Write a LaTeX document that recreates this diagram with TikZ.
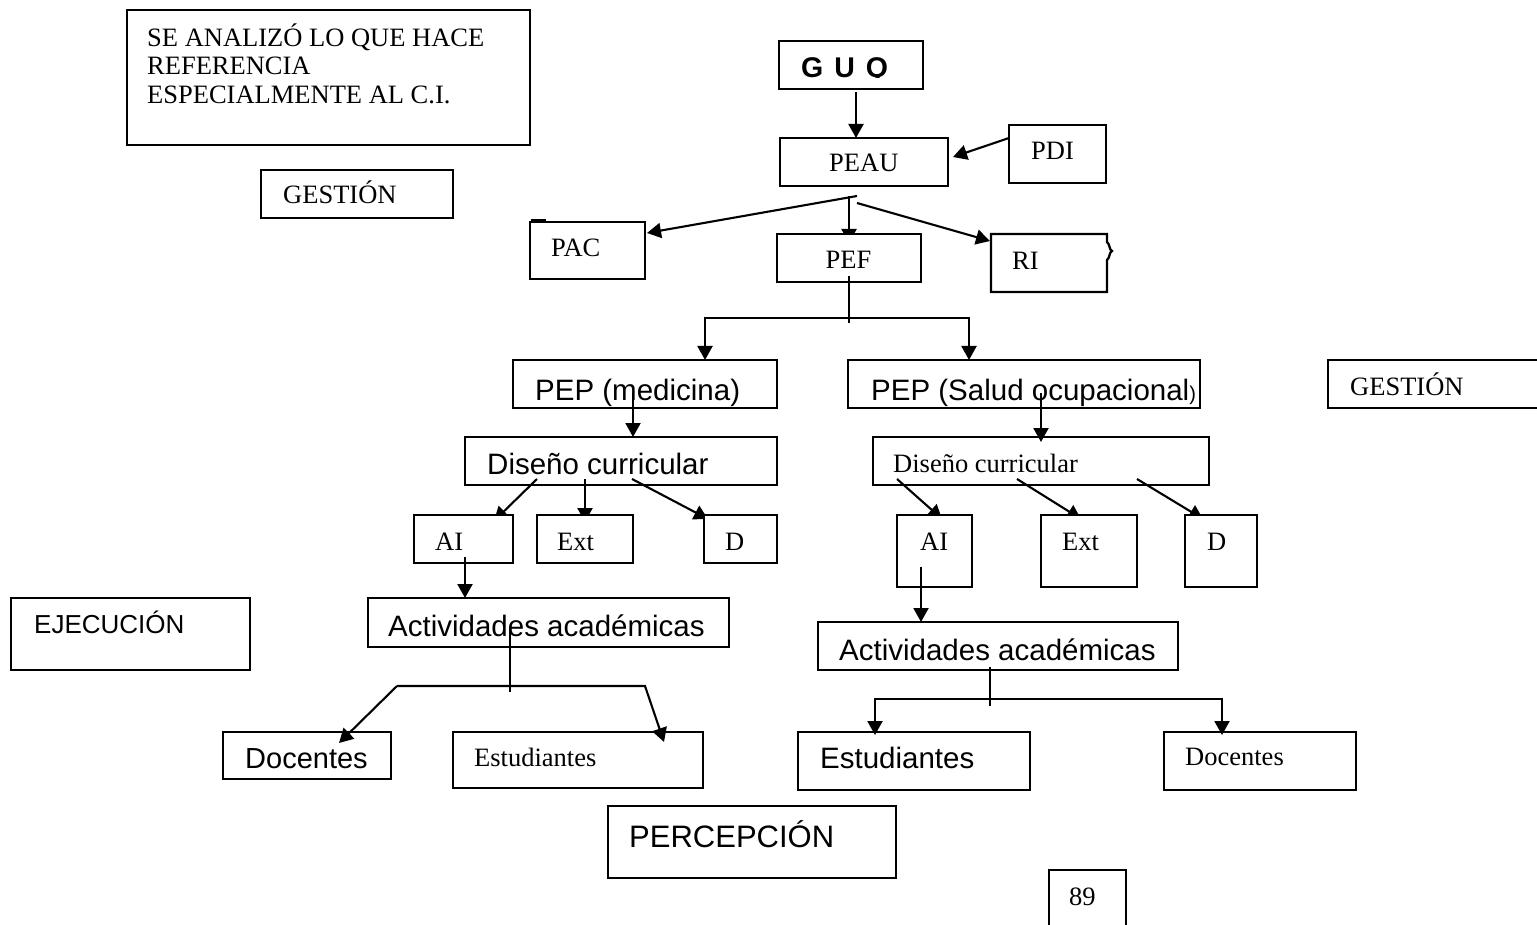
\documentclass[tikz,border=0pt]{standalone}
\usepackage{fontspec}
\setmainfont{Liberation Serif}
\setsansfont{Liberation Sans}
\usetikzlibrary{arrows.meta}
\newcommand\serifsz{\rmfamily\fontsize{26.5}{28.5}\selectfont}
\newcommand\sanssz{\sffamily\fontsize{29.5}{32}\selectfont}
\tikzset{
  boxst/.style={draw, line width=2.3pt, fill=white, inner sep=0pt, outer sep=0pt, rectangle},
  rm/.style={anchor=base west, inner sep=0pt, font=\serifsz},
  sf/.style={anchor=base west, inner sep=0pt, font=\sanssz},
  link/.style={line width=2.1pt},
  arr/.style={link, -{Triangle[length=14pt,width=15pt]}},
}
\begin{document}
\begin{tikzpicture}[x=1pt,y=-1pt]
\useasboundingbox (0,0) rectangle (1537,925);
\clip (0,0) rectangle (1537,925);
\fill[white] (0,0) rectangle (1537,925);

% ---- upper level
\node[boxst, minimum width=403pt, minimum height=135pt] (note) at (328.5,77.5) {};
\node[rm] (note-1) at (147,47) {SE ANALIZÓ LO QUE HACE};
\node[rm] (note-2) at (147,75) {REFERENCIA};
\node[rm] (note-3) at (147,104) {ESPECIALMENTE AL C.I.};

\node[boxst, minimum width=192pt, minimum height=48pt] (gestL) at (357,194) {};
\node[rm] (gestL-t) at (283,204) {GESTIÓN};

\node[boxst, minimum width=144pt, minimum height=48pt] (guq) at (851,65) {};
\begin{scope}
  \clip (guq.north west) rectangle ([yshift=11.5pt]guq.south east);
  \node[sf, font=\sffamily\bfseries\fontsize{28.5}{30}\selectfont] (guq-t) at (801,78) {G\hspace{11pt}U\hspace{11pt}Q};
\end{scope}

\node[boxst, minimum width=168pt, minimum height=48pt] (peau) at (864,162) {};
\node[rm] (peau-t) at (829,172) {PEAU};
\node[boxst, minimum width=97pt, minimum height=58pt] (pdi) at (1057.5,154) {};
\node[rm] (pdi-t) at (1031,160) {PDI};

\draw[arr] ([xshift=5pt,yshift=-3pt]guq.south) -- ([xshift=-8pt]peau.north);
\draw[arr] ([yshift=-13pt]pdi.north west) -- ([xshift=5pt,yshift=5pt]peau.east);

\coordinate (fork1) at ([xshift=-7pt,yshift=-10pt]peau.south);

% ---- PAC / PEF / RI
\node[boxst, draw=none, fill=none, minimum width=115pt, minimum height=57pt] (pac) at (587.5,250.5) {};
\node[boxst, draw=none, fill=none, minimum width=144pt, minimum height=48pt] (pef) at (849,258) {};
\node[boxst, draw=none, fill=none, minimum width=116pt, minimum height=58pt] (ri) at (1049,263) {};

\draw[arr] (fork1) -- ([xshift=2pt,yshift=-11pt]pac.north east);
\draw[arr] (fork1 -| pef.north) -- ([yshift=-9pt]pef.north);
\draw[arr] ([yshift=-7pt]fork1) -- ([xshift=-1pt,yshift=-7pt]ri.north west);

\draw[boxst] (pac.south west) rectangle (pac.north east);
\draw[line width=3.5pt] ([xshift=1pt,yshift=1pt]pac.north west) -- ++(15,0);
\node[rm] (pac-t) at (551,257) {PAC};
\draw[boxst] (pef.south west) rectangle (pef.north east);
\node[rm] (pef-t) at (825.5,269) {PEF};
\filldraw[boxst] (ri.north east) -- (ri.north west) -- (ri.south west) -- (ri.south east)
  -- (1107,260) .. controls (1110,258) and (1109,252) .. (1112,251)
  .. controls (1109,250) and (1110,244) .. (1107,242) -- cycle;
\node[rm] (ri-t) at (1012,270) {RI};

% ---- PEP level
\node[boxst, minimum width=264pt, minimum height=48pt] (pepm) at (645,384) {};
\node[boxst, minimum width=352pt, minimum height=48pt] (peps) at (1024,384) {};
\begin{scope}
  \clip ([yshift=2pt]pepm.south west) rectangle (pepm.north east);
  \node[sf] (pepm-t) at (535,400) {PEP (medicina)};
\end{scope}
\begin{scope}
  \clip ([yshift=2pt]peps.south west) rectangle (peps.north east);
  \node[sf] (peps-t) at (871,400) {PEP (Salud ocupacional{\fontsize{20}{20}\selectfont)}};
\end{scope}
\node[boxst, minimum width=217pt, minimum height=48pt] (gestR) at (1436.5,384) {};
\node[rm] (gestR-t) at (1350,395) {GESTIÓN};

\draw[link] ([yshift=6pt]pef.south) -- ([yshift=-41pt]pef.south);
\coordinate (fork2) at ([yshift=-36pt]pef.south);
\draw[arr] (fork2) -| ([xshift=60pt]pepm.north);
\draw[arr] (fork2) -| ([xshift=-55pt]peps.north);

% ---- curriculum design
\node[boxst, minimum width=312pt, minimum height=48pt] (disL) at (621,461) {};
\node[sf] (disL-t) at (487,474) {Diseño curricular};
\node[boxst, minimum width=336pt, minimum height=48pt] (disR) at (1041,461) {};
\node[rm] (disR-t) at (893,472) {Diseño curricular};

\draw[arr] ([xshift=-12pt,yshift=15pt]pepm.south) -- ([xshift=12pt]disL.north);
\draw[arr] ([xshift=17pt,yshift=15pt]peps.south) -- ([yshift=-5pt]disR.north);

\node[boxst, draw=none, fill=none, minimum width=99pt, minimum height=48pt] (aiL) at (463.5,539) {};
\node[boxst, draw=none, fill=none, minimum width=96pt, minimum height=48pt] (extL) at (585,539) {};
\node[boxst, draw=none, fill=none, minimum width=73pt, minimum height=48pt] (dL) at (740.5,539) {};
\node[boxst, draw=none, fill=none, minimum width=75pt, minimum height=72pt] (aiR) at (934.5,551) {};
\node[boxst, draw=none, fill=none, minimum width=96pt, minimum height=72pt] (extR) at (1089,551) {};
\node[boxst, draw=none, fill=none, minimum width=72pt, minimum height=72pt] (dR) at (1221,551) {};

\draw[arr] ([xshift=72pt,yshift=6pt]disL.south west) -- ([xshift=-19pt,yshift=-6pt]aiL.north east);
\draw[arr] ([xshift=120pt,yshift=6pt]disL.south west) -- ([yshift=-7pt]extL.north);
\draw[arr] ([xshift=167pt,yshift=6pt]disL.south west) -- ([xshift=4pt,yshift=-4pt]dL.north west);
\draw[arr] ([xshift=24pt,yshift=6pt]disR.south west) -- ([xshift=7.5pt,yshift=-4pt]aiR.north);
\draw[arr] ([xshift=144pt,yshift=6pt]disR.south west) -- ([xshift=-8pt,yshift=-4pt]extR.north);
\draw[arr] ([xshift=264pt,yshift=6pt]disR.south west) -- ([xshift=-18pt,yshift=-4pt]dR.north);

\foreach \b in {aiL,extL,dL,aiR,extR,dR}
  \draw[boxst] (\b.south west) rectangle (\b.north east);
\node[rm] (aiL-t) at (435,550) {AI};
\node[rm] (extL-t) at (557,550) {Ext};
\node[rm] (dL-t) at (725,550) {D};
\node[rm] (aiR-t) at (920,550) {AI};
\node[rm] (extR-t) at (1062,550) {Ext};
\node[rm] (dR-t) at (1207,550) {D};

% ---- execution level
\node[boxst, minimum width=239pt, minimum height=72pt] (ejec) at (130.5,634) {};
\node[sf, font=\sffamily\fontsize{26}{28}\selectfont] (ejec-t) at (34,633) {EJECUCIÓN};

\node[boxst, minimum width=361pt, minimum height=49pt] (actL) at (548.5,622.5) {};
\node[sf] (actL-t) at (388,636) {Actividades académicas};
\node[boxst, minimum width=360pt, minimum height=48pt] (actR) at (998,646) {};
\node[sf] (actR-t) at (839,660) {Actividades académicas};

\draw[arr] ([xshift=1.5pt,yshift=6pt]aiL.south) -- ([xshift=97pt]actL.north west);
\draw[arr] ([xshift=-13.5pt,yshift=20pt]aiR.south) -- ([xshift=103pt]actR.north west);

\node[boxst, minimum width=168pt, minimum height=47pt] (docL) at (307,755.5) {};
\node[sf, font=\sffamily\fontsize{29}{31}\selectfont] (docL-t) at (245,768) {Docentes};
\node[boxst, minimum width=250pt, minimum height=56pt] (estL) at (578,760) {};
\node[rm] (estL-t) at (474,766) {Estudiantes};
\node[boxst, minimum width=232pt, minimum height=58pt] (estR) at (914,761) {};
\node[sf] (estR-t) at (820,768) {Estudiantes};
\node[boxst, minimum width=192pt, minimum height=58pt] (docR) at (1260,761) {};
\node[rm] (docR-t) at (1185,765) {Docentes};

\draw[link] ([xshift=142pt,yshift=19pt]actL.south west) -- ([xshift=142pt,yshift=-45pt]actL.south west);
\coordinate (fork3) at ([xshift=142pt,yshift=-39pt]actL.south west);
\draw[arr] ([xshift=-113pt]fork3) -- ([xshift=32pt,yshift=-11pt]docL.north);
\draw[arr] ([xshift=-113pt]fork3) -- ([xshift=135pt]fork3) -- ([xshift=-39pt,yshift=-10pt]estL.north east);

\draw[link] ([xshift=-8pt,yshift=3pt]actR.south) -- ([xshift=-8pt,yshift=-36pt]actR.south);
\coordinate (fork4) at ([xshift=-8pt,yshift=-29pt]actR.south);
\draw[arr] (fork4) -| ([xshift=-39pt,yshift=-3pt]estR.north);
\draw[arr] (fork4) -| ([xshift=-38pt,yshift=-3pt]docR.north);

% ---- perception and page number
\node[boxst, minimum width=288pt, minimum height=72pt] (perc) at (752,842) {};
\node[sf, font=\sffamily\fontsize{31}{33}\selectfont] (perc-t) at (629,847) {PERCEPCIÓN};
\node[boxst, minimum width=77pt, minimum height=65pt] (pnum) at (1087.5,902.5) {};
\node[rm] (pnum-t) at (1069,905) {89};
\end{tikzpicture}
\end{document}
